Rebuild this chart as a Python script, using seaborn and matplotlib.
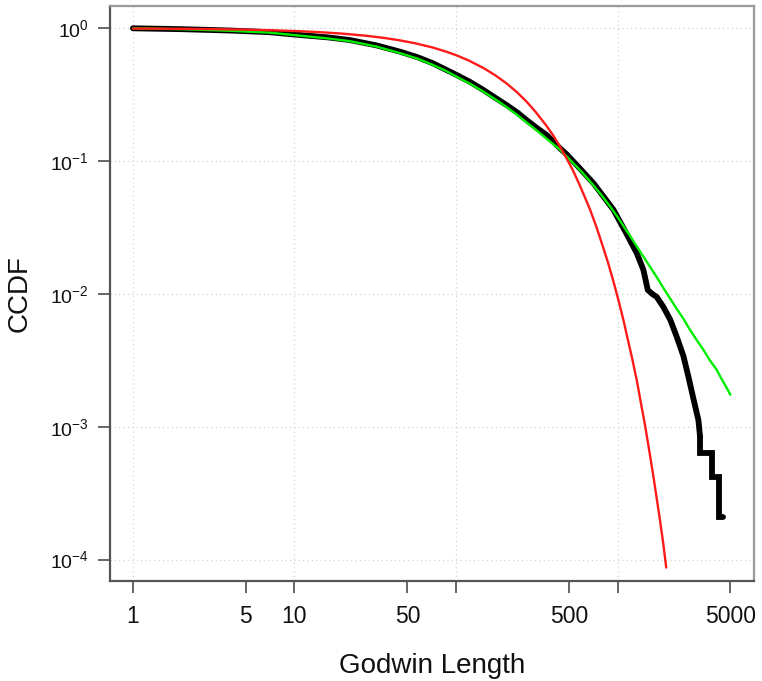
import numpy as np
import pandas as pd
import matplotlib
matplotlib.use("Agg")
import matplotlib.pyplot as plt
from matplotlib.ticker import FixedLocator, FixedFormatter, LogFormatterSciNotation, NullLocator
import seaborn as sns

# Empirical CCDF of Godwin length (smooth body of the curve)
emp_x = [1, 2, 4, 7, 10.8, 16, 22, 32, 45, 58, 72, 86, 101, 122, 148, 175,
         206, 240, 273, 316, 365, 440, 486, 590, 711, 820, 944, 1130, 1315,
         1446, 1540, 1640, 1748, 1920, 2120, 2320, 2560, 2750, 2960, 3170,
         3245]
emp_y = [1.0, 0.985, 0.962, 0.935, 0.89, 0.855, 0.816, 0.745, 0.667, 0.605,
         0.545, 0.49, 0.445, 0.395, 0.343, 0.30, 0.264, 0.232, 0.204, 0.178,
         0.157, 0.125, 0.112, 0.087, 0.068, 0.054, 0.043, 0.0288, 0.0203,
         0.0152, 0.0107, 0.0100, 0.0095, 0.0080, 0.0064, 0.0048, 0.0034,
         0.00237, 0.00160, 0.00112, 0.00084]

# Last few observations: the CCDF drops in steps of 1/n
tail_x = [3245, 3245, 3840, 4220, 4500]
tail_y = [0.00084, 0.00063, 0.00042, 0.00021, 0.00021]

# Fitted exponential model
exp_x = [1, 1.5, 2, 3, 5, 7, 10, 14, 20, 28, 36, 45, 56, 72, 88, 101, 120,
         148, 175, 206, 240, 273, 310, 365, 400, 440, 486, 530, 580, 630, 677,
         740, 800, 870, 944, 1020, 1090, 1160, 1230, 1320, 1400, 1480, 1560,
         1650, 1748, 1830, 1920, 2003]
exp_y = [0.995, 0.993, 0.991, 0.986, 0.977, 0.968, 0.954, 0.937, 0.911, 0.878,
         0.846, 0.811, 0.771, 0.716, 0.664, 0.625, 0.572, 0.502, 0.443, 0.384,
         0.328, 0.281, 0.236, 0.183, 0.156, 0.129, 0.104, 0.085, 0.067, 0.053,
         0.043, 0.032, 0.024, 0.0175, 0.0124, 0.0087, 0.0063, 0.0045, 0.0033,
         0.0022, 0.00148, 0.00103, 0.00070, 0.00046, 0.00029, 0.00020,
         0.000132, 0.000087]

# Fitted heavy-tailed model
fit_x = [1, 2, 4, 7, 10.8, 16, 22, 32, 45, 58, 72, 86, 101, 122, 148, 175,
         206, 240, 273, 316, 365, 440, 486, 600, 700, 800, 900, 1000, 1100,
         1195, 1300, 1446, 1600, 1748, 1950, 2120, 2330, 2560, 2800, 3090,
         3400, 3745, 4100, 4400, 4700, 5000]
fit_y = [1.0, 0.985, 0.958, 0.928, 0.88, 0.84, 0.80, 0.73, 0.65, 0.59, 0.53,
         0.48, 0.432, 0.383, 0.333, 0.292, 0.255, 0.222, 0.196, 0.170, 0.147,
         0.122, 0.108, 0.083, 0.067, 0.055, 0.0455, 0.038, 0.0318, 0.0274,
         0.0233, 0.0191, 0.0158, 0.0134, 0.0108, 0.0092, 0.0077, 0.0065,
         0.0054, 0.0045, 0.0038, 0.00314, 0.0027, 0.0023, 0.0020, 0.00174]

x_major = [1, 10, 100, 1000]
x_major_labels = ["1", "10", "", ""]
x_minor = [5, 50, 500, 5000]
x_minor_labels = ["5", "50", "500", "5000"]
y_ticks = [1e0, 1e-1, 1e-2, 1e-3, 1e-4]

emp = pd.DataFrame({"length": emp_x, "ccdf": emp_y})
tail = pd.DataFrame({"length": tail_x, "ccdf": tail_y})
expo = pd.DataFrame({"length": exp_x, "ccdf": exp_y})
fit = pd.DataFrame({"length": fit_x, "ccdf": fit_y})

sns.set_style("white")
plt.rcParams["font.family"] = ["Liberation Sans", "DejaVu Sans"]
plt.rcParams["mathtext.fontset"] = "custom"
plt.rcParams["mathtext.rm"] = "Liberation Sans"
plt.rcParams["mathtext.it"] = "Liberation Sans:italic"
plt.rcParams["mathtext.bf"] = "Liberation Sans:bold"

fig = plt.figure(figsize=(7.62, 6.81), dpi=100)
ax = fig.add_axes([110 / 762, 1 - 581 / 681, (754 - 110) / 762, (581 - 6) / 681])
ax.set_xscale("log")
ax.set_yscale("log")
ax.set_xlim(0.721, 7000)
ax.set_ylim(6.89e-5, 1.472)

line_kw = dict(estimator=None, sort=False, ax=ax, legend=False)
sns.lineplot(data=emp, x="length", y="ccdf", color="black", linewidth=4.2,
             solid_joinstyle="round", solid_capstyle="round", **line_kw)
sns.lineplot(data=tail, x="length", y="ccdf", color="black", linewidth=4.2,
             drawstyle="steps-post", solid_joinstyle="miter",
             solid_capstyle="round", **line_kw)
sns.lineplot(data=fit, x="length", y="ccdf", color="#00ee00", linewidth=1.7,
             solid_joinstyle="round", **line_kw)
sns.lineplot(data=expo, x="length", y="ccdf", color="#ff1a1a", linewidth=1.7,
             solid_joinstyle="round", **line_kw)

ax.xaxis.set_major_locator(FixedLocator(x_major))
ax.xaxis.set_major_formatter(FixedFormatter(x_major_labels))
ax.xaxis.set_minor_locator(FixedLocator(x_minor))
ax.xaxis.set_minor_formatter(FixedFormatter(x_minor_labels))
ax.yaxis.set_major_locator(FixedLocator(y_ticks))
ax.yaxis.set_major_formatter(LogFormatterSciNotation())
ax.yaxis.set_minor_locator(NullLocator())

tick_kw = dict(direction="out", length=8.4, width=1.4, color="#666666")
ax.tick_params(axis="x", which="both", labelsize=16.5, pad=9, bottom=True,
               labelcolor="#111111", **tick_kw)
ax.tick_params(axis="y", which="major", labelsize=14, pad=7, left=True,
               labelcolor="#111111", **tick_kw)

ax.grid(True, which="major", color="#d4d4d4", linestyle=(0, (1, 2.5)),
        linewidth=0.9)
ax.set_axisbelow(True)

for side in ("left", "bottom"):
    ax.spines[side].set_color("#555555")
    ax.spines[side].set_linewidth(1.6)
for side in ("top", "right"):
    ax.spines[side].set_color("#9a9a9a")
    ax.spines[side].set_linewidth(1.6)

ax.set_xlabel("Godwin Length", fontsize=20, labelpad=18, color="#111111")
ax.set_ylabel("CCDF", fontsize=20, labelpad=12, color="#111111")

fig.savefig("out.png", dpi=100)
